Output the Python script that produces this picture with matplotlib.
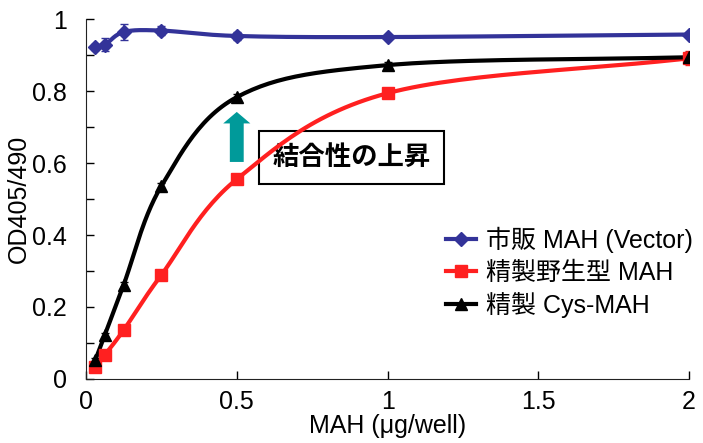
import numpy as np
import matplotlib
matplotlib.use("Agg")
import matplotlib.pyplot as plt
from matplotlib.patches import FancyArrow

plt.rcParams['font.family'] = ['Liberation Sans', 'Noto Sans CJK JP']

dose = [0.03125, 0.0625, 0.125, 0.25, 0.5, 1.0, 2.0]
vector = [0.922, 0.928, 0.964, 0.968, 0.953, 0.950, 0.957]
vector_err = [0.008, 0.018, 0.022, 0.012, 0.012, 0.006, 0.008]
wild = [0.034, 0.067, 0.136, 0.289, 0.555, 0.794, 0.891]
wild_err = [0.005, 0.005, 0.006, 0.006, 0.008, 0.008, 0.02]
cys = [0.053, 0.122, 0.262, 0.536, 0.783, 0.872, 0.894]
cys_err = [0.005, 0.006, 0.008, 0.008, 0.008, 0.008, 0.015]

labels = ['市販 MAH (Vector)', '精製野生型 MAH', '精製 Cys-MAH']
colors = ['#333399', '#FF2020', '#000000']
markers = ['D', 's', '^']


def smooth(x, y, n=30):
    # Catmull-Rom style smoothing, like Excel's smoothed line
    x = np.asarray(x, float)
    y = np.asarray(y, float)
    px = np.concatenate([[2 * x[0] - x[1]], x, [2 * x[-1] - x[-2]]])
    py = np.concatenate([[2 * y[0] - y[1]], y, [2 * y[-1] - y[-2]]])
    xs, ys = [], []
    t = np.linspace(0, 1, n)
    for i in range(1, len(px) - 2):
        for p, out in ((px, xs), (py, ys)):
            p0, p1, p2, p3 = p[i - 1], p[i], p[i + 1], p[i + 2]
            out.extend(0.5 * ((2 * p1) + (-p0 + p2) * t +
                              (2 * p0 - 5 * p1 + 4 * p2 - p3) * t ** 2 +
                              (-p0 + 3 * p1 - 3 * p2 + p3) * t ** 3))
    return xs, ys


fig = plt.figure(figsize=(7.03, 4.43), dpi=100)
ax = fig.add_axes([0.1223, 0.1445, 0.858, 0.8125])

for ys, err, c, m, lab in zip([vector, wild, cys], [vector_err, wild_err, cys_err],
                              colors, markers, labels):
    sx, sy = smooth(dose, ys)
    ax.plot(sx, sy, color=c, lw=3, zorder=2)
    ax.errorbar(dose, ys, yerr=err, fmt='none', ecolor=c, elinewidth=1.2,
                capsize=3, zorder=3)
    ms = 7.5 if m == 'D' else 8
    ax.plot(dose, ys, ls='none', marker=m, color=c, ms=ms, zorder=4)
    ax.plot([], [], color=c, lw=3, marker=m, ms=ms, label=lab)

ax.set_xlim(0, 2)
ax.set_ylim(0, 1)
ax.set_xticks([0, 0.5, 1, 1.5, 2])
ax.set_xticklabels(['0', '0.5', '1', '1.5', '2'])
ax.set_yticks(np.arange(0, 1.01, 0.1), minor=True)
ax.set_yticks([0, 0.2, 0.4, 0.6, 0.8, 1.0])
ax.set_yticklabels(['0', '0.2', '0.4', '0.6', '0.8', '1'])
ax.tick_params(direction='in', labelsize=18, length=6, width=1)
ax.tick_params(which='minor', direction='in', length=6, width=1)
ax.tick_params(axis='y', pad=14)
ax.tick_params(axis='x', pad=8)
for s in ['top', 'right']:
    ax.spines[s].set_visible(False)
ax.spines['left'].set_color('#222222')
ax.spines['bottom'].set_color('#222222')

ax.set_xlabel('MAH (μg/well)', fontsize=18, labelpad=0)
ax.set_ylabel('OD405/490', fontsize=18, ha='center', va='center')
ax.yaxis.set_label_coords(-0.112, 0.5)

arrow = FancyArrow(0.5, 0.603, 0, 0.139, width=0.046, head_width=0.09,
                   head_length=0.032, length_includes_head=True,
                   color='#009A9A', lw=0, zorder=5)
ax.add_patch(arrow)

ax.text(0.88, 0.615, '結合性の上昇', fontsize=19, fontweight='bold',
        family=['Noto Sans CJK JP'], ha='center', va='center',
        bbox=dict(boxstyle='square,pad=0.5', fc='white', ec='black', lw=1.5),
        zorder=1)

ax.legend(loc='upper left', bbox_to_anchor=(0.58, 0.45), frameon=False,
          fontsize=18, handlelength=1.2, handletextpad=0.4, labelspacing=0.3,
          borderaxespad=0)

fig.savefig('out.png', dpi=100)
